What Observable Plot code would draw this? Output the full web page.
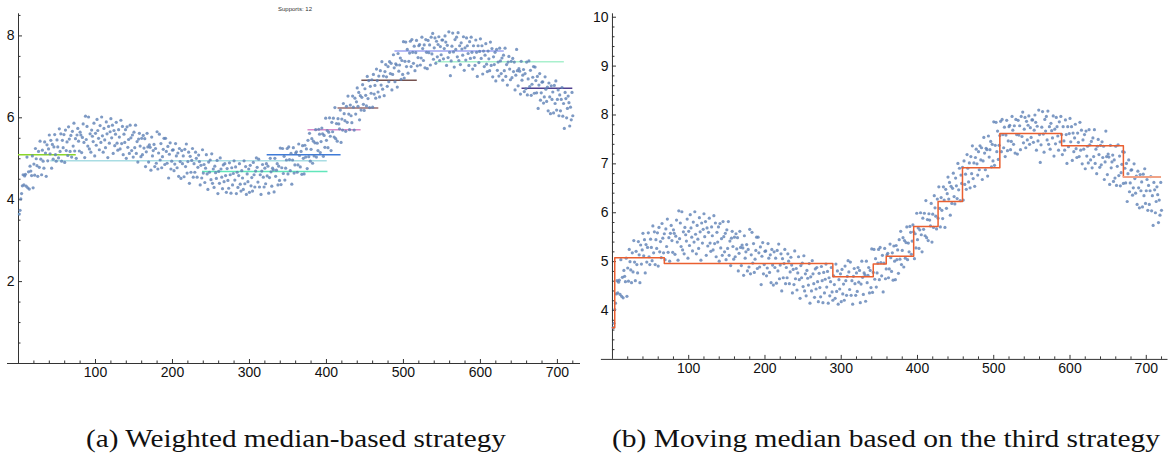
<!DOCTYPE html>
<html><head><meta charset="utf-8">
<script src="https://cdn.jsdelivr.net/npm/d3@7"></script>
<script src="https://cdn.jsdelivr.net/npm/@observablehq/plot@0.6"></script>
<style>
html,body{margin:0;padding:0;background:#fff}
body{width:1168px;height:457px;position:relative;overflow:hidden;font-family:"Liberation Sans",Arial,sans-serif}
#a{position:absolute;left:0;top:0}
#b{position:absolute;left:590px;top:0}
#sup{position:absolute;left:245px;width:100px;top:6px;text-align:center;font-size:6px;color:#333;line-height:1}
.cap{position:absolute;font-family:"Liberation Serif","DejaVu Serif",serif;white-space:nowrap;line-height:1;color:#111;font-weight:normal;font-size:25px;transform-origin:0 0}
</style></head><body>
<div id="a"></div><div id="b"></div>
<div id="sup">Supports: 12</div>
<div class="cap" id="capA">(a) Weighted median-based strategy</div>
<div class="cap" id="capB">(b) Moving median based on the third strategy</div>
<script>
// ---- scatter values, x = 1..720 ----
const y001 = [3.65,3.74,4.02,4.15,4.34,4.61,4.36,4.58,4.62,4.33, 5.04,4.29,4.68,4.26,4.82,4.70,4.59,5.07,4.29,4.87, 4.60,5.25,5.00,4.83,4.57,5.18,4.79,5.43,4.99,4.61, 5.21,4.94,4.77,5.41,5.14,4.57,5.34,4.95,5.24,5.58, 5.12,5.45,4.77,5.35,4.99,5.29,5.59,5.10,4.94,5.46, 5.29,5.02,5.73,5.18,5.61,4.94,5.45,5.27,5.59,4.91, 5.70,5.20,5.41,5.08,5.78,5.48,5.18,5.57,5.04,5.67, 5.31,5.87,5.19,5.49,5.01,5.58,5.74,5.43,5.19,5.65];
const y081 = [5.58,5.15,5.52,5.85,5.40,5.03,6.04,5.47,5.79,5.31, 6.02,5.24,5.61,5.16,5.70,5.55,5.42,5.87,5.07,5.62, 5.33,5.96,5.69,5.50,5.22,5.81,5.40,6.02,5.56,5.16, 5.74,5.46,5.27,5.90,5.61,5.03,5.79,5.38,5.66,5.98, 5.51,5.82,5.13,5.69,5.32,5.60,5.89,5.38,5.21,5.71, 5.53,5.24,5.94,5.37,5.79,5.10,5.60,5.40,5.71,5.01, 5.78,5.28,5.47,5.13,5.82,5.51,5.20,5.58,5.04,5.65, 5.27,5.82,5.13,5.42,4.92,5.48,5.62,5.31,5.05,5.50];
const y161 = [5.10,5.57,5.26,5.49,4.81,5.17,5.62,5.29,4.92,5.34, 5.28,4.72,5.53,5.07,5.20,5.35,4.81,5.25,4.89,5.66, 4.75,5.14,5.60,4.97,5.37,4.78,5.05,5.23,5.50,4.86, 5.50,5.18,4.89,5.30,4.53,5.11,5.39,4.75,4.94,5.21, 5.22,4.71,4.87,5.37,5.07,4.78,5.14,4.57,5.25,4.93, 4.52,5.20,4.88,5.07,4.56,5.23,4.81,5.36,4.65,4.93, 5.16,4.40,5.06,4.67,4.96,5.25,4.55,4.88,4.67,5.16, 5.01,4.55,4.79,5.09,4.93,4.36,4.84,4.53,5.22,4.65];
const y241 = [4.86,4.42,4.77,5.10,4.63,4.25,4.92,4.67,4.97,4.49, 5.12,4.40,4.75,4.30,4.82,4.66,4.52,4.96,4.15,4.69, 4.40,5.02,4.75,4.55,4.27,4.85,4.44,4.88,4.59,4.18, 4.76,4.47,4.28,4.90,4.61,4.16,4.78,4.36,4.64,4.95, 4.48,4.80,4.15,4.67,4.30,4.59,4.88,4.38,4.21,4.71, 4.53,4.25,4.95,4.39,4.81,4.13,4.63,4.44,4.75,4.18, 4.84,4.34,4.54,4.21,4.91,4.61,4.31,4.70,5.02,4.79, 4.43,4.99,4.31,4.61,4.13,4.70,4.86,4.55,4.31,4.77];
const y321 = [4.39,4.88,4.58,4.82,4.16,4.54,5.01,4.68,4.33,4.77, 4.73,4.19,5.01,4.57,4.72,4.88,4.36,4.82,4.47,5.26, 4.37,4.78,5.25,4.64,5.06,4.48,4.77,4.97,5.25,4.63, 5.29,4.98,4.71,5.13,4.38,4.97,5.27,4.65,4.85,5.14, 5.17,4.67,4.85,5.36,5.08,4.80,5.18,4.62,5.32,5.01, 4.63,5.33,5.04,5.24,4.76,5.45,5.05,5.62,4.94,5.23, 5.49,4.89,5.43,5.07,5.39,5.71,5.04,5.38,5.20,5.72, 5.60,5.15,5.42,5.75,5.61,5.06,5.57,5.28,5.99,5.45];
const y401 = [5.69,5.27,5.65,6.00,5.55,5.20,5.89,5.66,5.99,5.53, 6.25,5.49,5.86,5.43,5.98,5.85,5.73,6.19,5.40,5.97, 5.70,6.35,6.10,5.93,5.67,6.28,5.89,6.53,6.09,5.71, 6.31,6.05,5.88,6.53,6.26,5.70,6.48,6.09,6.39,6.73, 6.28,6.62,5.95,6.54,6.19,6.50,6.81,6.33,6.18,6.71, 6.55,6.29,7.01,6.47,6.91,6.25,6.77,6.60,6.93,6.26, 7.06,6.58,6.79,6.48,7.19,6.91,6.63,7.02,6.51,7.15, 6.80,7.37,6.70,7.02,6.54,7.13,7.30,7.00,6.77,7.25];
const y481 = [6.88,7.37,7.08,7.33,6.68,7.06,7.54,7.22,6.88,7.32, 7.29,6.75,7.57,7.14,7.29,7.46,6.94,7.40,7.06,7.86, 6.97,7.38,7.85,7.25,7.67,7.09,7.38,7.58,7.87,7.25, 7.91,7.60,7.33,7.75,7.15,7.59,7.89,7.27,7.47,7.76, 7.79,7.29,7.46,7.97,7.69,7.40,7.78,7.22,7.91,7.60, 7.20,7.89,7.59,7.78,7.29,7.97,7.56,8.06,7.43,7.71, 7.95,7.33,7.87,7.49,7.79,7.98,7.40,7.74,7.54,7.90, 7.90,7.44,7.69,8.00,7.85,7.28,7.77,7.47,8.10,7.60];
const y561 = [7.03,7.39,7.75,8.07,7.61,7.24,7.91,7.67,7.97,7.49, 8.08,7.40,7.76,7.30,7.83,7.68,7.53,7.98,7.16,7.71, 7.41,7.95,7.76,7.57,7.28,7.86,7.45,7.97,7.60,7.19, 7.76,7.47,7.28,7.90,7.60,7.01,7.76,7.35,7.62,7.93, 7.45,7.76,7.07,7.63,7.25,7.53,7.81,7.31,7.13,7.63, 7.44,7.15,7.85,7.28,7.69,7.00,7.49,7.30,7.60,6.90, 7.67,7.16,7.36,7.02,7.70,7.39,7.08,7.46,6.92,7.53, 7.15,7.70,7.01,7.30,6.80,7.36,7.50,7.19,6.93,7.38];
const y641 = [6.98,7.45,7.13,7.36,6.68,7.04,7.67,7.15,6.78,7.20, 7.14,6.58,7.38,6.92,7.04,7.18,6.64,7.08,6.71,7.36, 6.56,6.95,7.39,6.76,7.16,6.55,6.82,6.99,7.25,6.60, 7.24,6.91,6.61,7.01,6.23,6.80,7.08,6.43,6.61,6.87, 6.88,6.36,6.51,7.00,6.70,6.40,6.75,6.17,6.85,6.51, 6.10,6.78,6.45,6.63,6.12,6.79,6.35,6.90,6.19,6.45, 6.68,6.05,6.56,6.17,6.45,6.74,6.04,6.35,5.74,6.62, 6.47,6.00,6.23,6.53,6.37,5.80,6.26,5.95,6.62,6.05];

// ---- panel (a): weighted-median segments ----
const segStart = [0, 0, 42, 239, 323, 376, 415, 446, 489, 542, 654];
const segEnd   = [2, 75, 401, 402, 419, 445, 468, 518, 631, 709, 720];
const segLevel = [3.65, 5.10, 4.95, 4.69, 5.10, 5.71, 6.24, 6.92, 7.63, 7.37, 6.72];
const segColor = ["#5ccfd6", "#8cd62a", "#a9dde3", "#62e6bb", "#3f7bd8", "#d98aca", "#9a6c6e", "#75524f", "#9ca4f0", "#a9f0cd", "#504090"];

// ---- panel (b): moving-median step line ----
const stepX = [0, 3, 68, 289, 342, 359, 395, 427, 459, 508, 589, 670];
const stepY = [3.65, 5.08, 4.96, 4.69, 4.95, 5.11, 5.72, 6.23, 6.92, 7.62, 7.37, 6.73];
const tailX = [670, 720];
const tailY = 6.73;

// ---- ticks ----
const xMajor = [100, 200, 300, 400, 500, 600, 700];
const xMinor = [20,40,60,80,120,140,160,180,220,240,260,280,320,340,360,380,420,440,460,480,520,540,560,580,620,640,660,680,720];
const yMajorA = [2, 4, 6, 8];
const yMinorA = [0.5,1,1.5,2.5,3,3.5,4.5,5,5.5,6.5,7,7.5,8.5];
const yMajorB = [4, 5, 6, 7, 8, 9, 10];
const yMinorB = [3.2,3.4,3.6,3.8,4.2,4.4,4.6,4.8,5.2,5.4,5.6,5.8,6.2,6.4,6.6,6.8,7.2,7.4,7.6,7.8,8.2,8.4,8.6,8.8,9.2,9.4,9.6,9.8];

const yAll = [...y001, ...y081, ...y161, ...y241, ...y321, ...y401, ...y481, ...y561, ...y641];
const points = yAll.map((y, i) => ({x: i + 1, y}));
const segs = segStart.map((s, i) => ({s, e: segEnd[i], v: segLevel[i], c: segColor[i]}));
const steps = stepX.map((x, i) => ({x, y: stepY[i]}));

const AX = "#333";
const DOT = "#5e81b5";

function axes(y0, yMajor, yMinor) {
  return [
    Plot.ruleY([y0], {stroke: AX, strokeWidth: 1}),
    Plot.ruleX([0], {stroke: AX, strokeWidth: 1}),
    Plot.ruleX(xMajor, {x: d => d, y1: y0, y2: y0, insetBottom: 4, stroke: AX}),
    Plot.ruleX(xMinor, {x: d => d, y1: y0, y2: y0, insetBottom: 2.5, stroke: AX}),
    Plot.ruleY(yMajor, {y: d => d, x1: 0, x2: 0, insetRight: -4, stroke: AX}),
    Plot.ruleY(yMinor, {y: d => d, x1: 0, x2: 0, insetRight: -2.5, stroke: AX}),
    Plot.text(xMajor, {x: d => d, y: y0, text: d => String(d), lineAnchor: "top", dy: 4, fontSize: 14, fill: "#111"}),
    Plot.text(yMajor, {x: 0, y: d => d, text: d => String(d), textAnchor: "end", dx: -4, fontSize: 14, fill: "#111"})
  ];
}

const plotA = Plot.plot({
  width: 590, height: 385,
  marginLeft: 7, marginRight: 10, marginTop: 13.3, marginBottom: 22,
  x: {domain: [-14.3, 730], axis: null},
  y: {domain: [0, 8.54], axis: null},
  color: {type: "identity"},
  style: {fontFamily: "'Liberation Sans', Arial, sans-serif", background: "transparent"},
  marks: [
    ...axes(0, yMajorA, yMinorA),
    Plot.ruleY(segs, {y: "v", x1: "s", x2: "e", stroke: "c", strokeWidth: 1.5}),
    Plot.dot(points, {x: "x", y: "y", r: 1.6, fill: DOT, fillOpacity: 0.8, stroke: "none"})
  ]
});
document.getElementById("a").appendChild(plotA);

const plotB = Plot.plot({
  width: 578, height: 385,
  marginLeft: 10.9, marginRight: 0.5, marginTop: 13.3, marginBottom: 26.1,
  x: {domain: [-14.5, 728.5], axis: null},
  y: {domain: [3, 10.07], axis: null},
  style: {fontFamily: "'Liberation Sans', Arial, sans-serif", background: "transparent"},
  marks: [
    ...axes(3, yMajorB, yMinorB),
    Plot.dot(points, {x: "x", y: "y", r: 1.6, fill: DOT, fillOpacity: 0.8, stroke: "none"}),
    Plot.line(steps, {x: "x", y: "y", curve: "step-after", stroke: "#ea5f30", strokeWidth: 1.5}),
    Plot.ruleY([tailY], {x1: tailX[0], x2: tailX[1], stroke: "#f0a286", strokeWidth: 2})
  ]
});
document.getElementById("b").appendChild(plotB);

// captions: stretch horizontally to the widths measured in the reference
function placeCap(id, centerX, targetW, centerY) {
  const el = document.getElementById(id);
  const w = el.getBoundingClientRect().width;
  const h = el.getBoundingClientRect().height;
  el.style.transform = `scaleX(${targetW / w})`;
  el.style.left = (centerX - targetW / 2) + "px";
  el.style.top = (centerY - h / 2) + "px";
}
placeCap("capA", 296, 420, 438);
placeCap("capB", 886, 548, 438);
</script>
</body></html>
